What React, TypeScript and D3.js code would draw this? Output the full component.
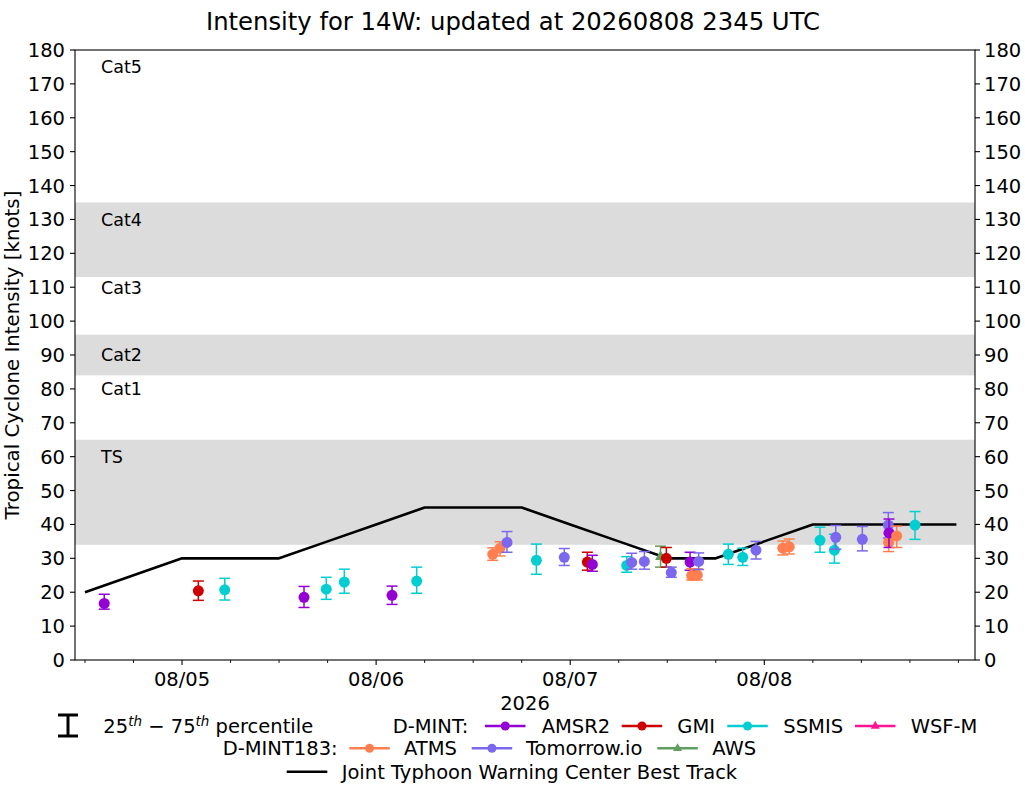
import React from 'react';
import * as d3 from 'd3';

const W = 1025;
const H = 785;
const PLOT = { left: 75, right: 975, top: 50, bottom: 660 };
const FONT = 'DejaVu Sans, Verdana, sans-serif';

const parse = d3.utcParse('%Y-%m-%d %H:%M');

// x-axis limits and ticks
const xLimits = ['2026-08-04 10:46', '2026-08-09 02:03'];
const majorTickTimes = ['2026-08-05 00:00', '2026-08-06 00:00', '2026-08-07 00:00', '2026-08-08 00:00'];
const majorTickLabels = ['08/05', '08/06', '08/07', '08/08'];
const yTicks = d3.range(0, 181, 10);
const yearLabel = '2026';

// intensity category bands and labels
const bandRanges = [[34, 65], [84, 96], [113, 135]];
const categoryNames = ['TS', 'Cat1', 'Cat2', 'Cat3', 'Cat4', 'Cat5'];
const categoryLabelValues = [60, 80, 90, 110, 130, 175];

// JTWC best track
const bestTrackTimes = [
  '2026-08-04 12:00', '2026-08-04 18:00', '2026-08-05 00:00', '2026-08-05 06:00', '2026-08-05 12:00',
  '2026-08-05 18:00', '2026-08-06 00:00', '2026-08-06 06:00', '2026-08-06 12:00', '2026-08-06 18:00',
  '2026-08-07 00:00', '2026-08-07 06:00', '2026-08-07 12:00', '2026-08-07 18:00', '2026-08-08 00:00',
  '2026-08-08 06:00', '2026-08-08 12:00', '2026-08-08 18:00', '2026-08-08 23:45',
];
const bestTrackValues = [20, 25, 30, 30, 30, 35, 40, 45, 45, 45, 40, 35, 30, 30, 35, 40, 40, 40, 40];

// D-MINT AMSR2
const amsr2Times = ['2026-08-04 14:23', '2026-08-05 15:05', '2026-08-06 01:58', '2026-08-07 02:44', '2026-08-07 14:49', '2026-08-08 15:25'];
const amsr2Values = [16.7, 18.5, 19.1, 28.2, 28.9, 37.5];
const amsr2Low = [15.0, 15.5, 16.4, 26.2, 26.5, 33.2];
const amsr2High = [19.4, 21.7, 21.8, 30.9, 31.8, 41.6];

// D-MINT GMI
const gmiTimes = ['2026-08-05 02:01', '2026-08-07 02:07', '2026-08-07 11:53'];
const gmiValues = [20.4, 28.9, 30.0];
const gmiLow = [17.6, 26.5, 27.4];
const gmiHigh = [23.3, 31.8, 33.2];

// D-MINT SSMIS
const ssmisTimes = [
  '2026-08-05 05:17', '2026-08-05 17:50', '2026-08-05 20:04', '2026-08-06 05:01', '2026-08-06 19:49',
  '2026-08-07 06:59', '2026-08-07 19:33', '2026-08-07 21:20', '2026-08-08 06:53', '2026-08-08 08:40', '2026-08-08 18:38',
];
const ssmisValues = [20.7, 20.9, 23.0, 23.3, 29.4, 27.9, 31.2, 30.3, 35.3, 32.4, 39.8];
const ssmisLow = [17.7, 17.9, 19.7, 19.7, 25.3, 25.9, 28.2, 27.9, 31.8, 28.6, 35.6];
const ssmisHigh = [24.1, 24.4, 26.8, 27.4, 34.2, 30.5, 34.2, 33.0, 39.2, 37.1, 43.8];

// D-MINT WSF-M (no retrievals)
const wsfmTimes: string[] = [];
const wsfmValues: number[] = [];
const wsfmLow: number[] = [];
const wsfmHigh: number[] = [];

// D-MINT183 ATMS
const atmsTimes = [
  '2026-08-06 14:25', '2026-08-06 15:19', '2026-08-07 15:01', '2026-08-07 15:43',
  '2026-08-08 02:17', '2026-08-08 03:05', '2026-08-08 15:22', '2026-08-08 16:22',
];
const atmsValues = [31.2, 33.0, 24.9, 25.1, 33.0, 33.4, 34.7, 36.6];
const atmsLow = [29.4, 30.7, 23.6, 23.6, 31.0, 31.3, 32.0, 33.2];
const atmsHigh = [33.1, 34.9, 26.9, 26.9, 35.1, 35.7, 37.4, 39.5];

// D-MINT183 Tomorrow.io
const tomorrowTimes = [
  '2026-08-06 16:11', '2026-08-06 23:16', '2026-08-07 07:36', '2026-08-07 09:10', '2026-08-07 12:30',
  '2026-08-07 15:53', '2026-08-07 22:58', '2026-08-08 08:50', '2026-08-08 12:07', '2026-08-08 15:20',
];
const tomorrowValues = [34.7, 30.3, 28.8, 29.1, 25.8, 29.1, 32.4, 36.2, 35.6, 39.8];
const tomorrowLow = [31.8, 27.9, 26.8, 26.8, 24.4, 26.7, 29.8, 32.7, 32.2, 36.0];
const tomorrowHigh = [37.9, 32.9, 31.5, 32.0, 27.4, 31.6, 35.0, 39.7, 39.4, 43.5];

// D-MINT183 AWS
const awsTimes = ['2026-08-07 11:10'];
const awsValues = [30.5];
const awsLow = [27.4];
const awsHigh = [33.6];

type Sensor = {
  name: string; color: string; marker: 'circle' | 'triangle';
  times: string[]; values: number[]; low: number[]; high: number[];
};

const sensors: Sensor[] = [
  { name: 'AMSR2', color: '#9400d3', marker: 'circle', times: amsr2Times, values: amsr2Values, low: amsr2Low, high: amsr2High },
  { name: 'GMI', color: '#cc0000', marker: 'circle', times: gmiTimes, values: gmiValues, low: gmiLow, high: gmiHigh },
  { name: 'SSMIS', color: '#00ced1', marker: 'circle', times: ssmisTimes, values: ssmisValues, low: ssmisLow, high: ssmisHigh },
  { name: 'WSF-M', color: '#ff1493', marker: 'triangle', times: wsfmTimes, values: wsfmValues, low: wsfmLow, high: wsfmHigh },
  { name: 'ATMS', color: '#ff7f50', marker: 'circle', times: atmsTimes, values: atmsValues, low: atmsLow, high: atmsHigh },
  { name: 'Tomorrow.io', color: '#7b68ee', marker: 'circle', times: tomorrowTimes, values: tomorrowValues, low: tomorrowLow, high: tomorrowHigh },
  { name: 'AWS', color: '#5f9e5f', marker: 'triangle', times: awsTimes, values: awsValues, low: awsLow, high: awsHigh },
];

const x = d3.scaleUtc().domain(xLimits.map((s) => parse(s) as Date)).range([PLOT.left, PLOT.right]);
const y = d3.scaleLinear().domain([0, 180]).range([PLOT.bottom, PLOT.top]);

const triPath = (cx: number, cy: number, r: number) =>
  `M${cx},${cy - r * 1.15}L${cx + r},${cy + r * 0.6}L${cx - r},${cy + r * 0.6}Z`;

function Marker({ kind, cx, cy, r, color }: { kind: string; cx: number; cy: number; r: number; color: string }) {
  if (kind === 'triangle') return <path d={triPath(cx, cy, r)} fill={color} />;
  return <circle cx={cx} cy={cy} r={r} fill={color} />;
}

export default function App() {
  const majorTimes = majorTickTimes.map((s) => parse(s) as Date);
  const [d0, d1] = x.domain();
  const minorTimes = d3.utcHour
    .every(6)!
    .range(d0, d1)
    .filter((t) => !majorTimes.some((m) => +m === +t));

  const line = d3
    .line<[Date, number]>()
    .x((d) => x(d[0]))
    .y((d) => y(d[1]));
  const bt: [Date, number][] = bestTrackTimes.map((s, i) => [parse(s) as Date, bestTrackValues[i]]);

  const points = sensors.flatMap((s) =>
    s.times.map((t, i) => ({ t: parse(t) as Date, v: s.values[i], lo: s.low[i], hi: s.high[i], color: s.color, marker: s.marker }))
  );
  points.sort((a, b) => +a.t - +b.t);

  const capHalf = 5.5;
  const tickFont = 19.5;
  const legendFont = 19.5;

  const legendRow1 = 726;
  const legendRow2 = 748.3;
  const legendRow3 = 771.7;
  const base = (c: number) => c + 7;

  const legendItems = [
    { s: sensors[0], x1: 485, text: 541.7, row: legendRow1 },
    { s: sensors[1], x1: 621.7, text: 677.3, row: legendRow1 },
    { s: sensors[2], x1: 727.3, text: 783.3, row: legendRow1 },
    { s: sensors[3], x1: 855, text: 910.7, row: legendRow1 },
    { s: sensors[4], x1: 349.3, text: 404, row: legendRow2 },
    { s: sensors[5], x1: 471.7, text: 526, row: legendRow2 },
    { s: sensors[6], x1: 657.3, text: 712.3, row: legendRow2 },
  ];

  return (
    <svg width={W} height={H} style={{ position: 'absolute', left: 0, top: 0, background: '#fff' }} fontFamily={FONT}>
      <rect width={W} height={H} fill="#fff" />
      <text x={513} y={30} textAnchor="middle" fontSize={24.3}>
        Intensity for 14W: updated at 20260808 2345 UTC
      </text>

      {/* bands */}
      {bandRanges.map(([a, b], i) => (
        <rect key={i} x={PLOT.left} width={PLOT.right - PLOT.left} y={y(b)} height={y(a) - y(b)} fill="#dcdcdc" />
      ))}
      {categoryNames.map((n, i) => (
        <text key={n} x={101} y={y(categoryLabelValues[i]) + 6.3} fontSize={17.5}>
          {n}
        </text>
      ))}

      {/* best track */}
      <path d={line(bt) || ''} fill="none" stroke="#000" strokeWidth={2.6} strokeLinejoin="round" />

      {/* points */}
      {points.map((p, i) => {
        const cx = x(p.t);
        return (
          <g key={i}>
            <line x1={cx} x2={cx} y1={y(p.lo)} y2={y(p.hi)} stroke={p.color} strokeWidth={1.5} />
            <line x1={cx - capHalf} x2={cx + capHalf} y1={y(p.lo)} y2={y(p.lo)} stroke={p.color} strokeWidth={1.5} />
            <line x1={cx - capHalf} x2={cx + capHalf} y1={y(p.hi)} y2={y(p.hi)} stroke={p.color} strokeWidth={1.5} />
            <Marker kind={p.marker} cx={cx} cy={y(p.v)} r={5.5} color={p.color} />
          </g>
        );
      })}

      {/* frame */}
      <rect x={PLOT.left} y={PLOT.top} width={PLOT.right - PLOT.left} height={PLOT.bottom - PLOT.top} fill="none" stroke="#000" strokeWidth={1.1} />

      {/* y ticks both sides */}
      {yTicks.map((v) => (
        <g key={v}>
          <line x1={PLOT.left - 5} x2={PLOT.left} y1={y(v)} y2={y(v)} stroke="#000" strokeWidth={1.1} />
          <line x1={PLOT.right} x2={PLOT.right + 5} y1={y(v)} y2={y(v)} stroke="#000" strokeWidth={1.1} />
          <text x={PLOT.left - 10} y={y(v) + 7} textAnchor="end" fontSize={tickFont}>
            {v}
          </text>
          <text x={PLOT.right + 9} y={y(v) + 7} textAnchor="start" fontSize={tickFont}>
            {v}
          </text>
        </g>
      ))}

      {/* x ticks */}
      {majorTimes.map((t, i) => (
        <g key={i}>
          <line x1={x(t)} x2={x(t)} y1={PLOT.bottom} y2={PLOT.bottom + 5} stroke="#000" strokeWidth={1.1} />
          <text x={x(t)} y={PLOT.bottom + 26} textAnchor="middle" fontSize={tickFont}>
            {majorTickLabels[i]}
          </text>
        </g>
      ))}
      {minorTimes.map((t, i) => (
        <line key={i} x1={x(t)} x2={x(t)} y1={PLOT.bottom} y2={PLOT.bottom + 3} stroke="#000" strokeWidth={0.9} />
      ))}
      <text x={525} y={710} textAnchor="middle" fontSize={tickFont}>
        {yearLabel}
      </text>

      <text transform={`translate(18.5,355) rotate(-90)`} textAnchor="middle" fontSize={19.8}>
        Tropical Cyclone Intensity [knots]
      </text>

      {/* legend */}
      <g>
        <line x1={68} x2={68} y1={715} y2={736} stroke="#000" strokeWidth={3} />
        <line x1={58} x2={78} y1={715} y2={715} stroke="#000" strokeWidth={3} />
        <line x1={58} x2={78} y1={736} y2={736} stroke="#000" strokeWidth={3} />
        <text x={103.3} y={base(legendRow1)} fontSize={legendFont}>
          25
          <tspan fontStyle="italic" fontSize={13.5} dy={-7.5}>th</tspan>
          <tspan dy={7.5}> − 75</tspan>
          <tspan fontStyle="italic" fontSize={13.5} dy={-7.5}>th</tspan>
          <tspan dy={7.5}> percentile</tspan>
        </text>
        <text x={392.7} y={base(legendRow1)} fontSize={legendFont}>D-MINT:</text>
        <text x={222.7} y={base(legendRow2)} fontSize={legendFont}>D-MINT183:</text>
        {legendItems.map((it) => (
          <g key={it.s.name}>
            <line x1={it.x1} x2={it.x1 + 40.5} y1={it.row} y2={it.row} stroke={it.s.color} strokeWidth={2.5} />
            <Marker kind={it.s.marker} cx={it.x1 + 20.25} cy={it.row} r={4.5} color={it.s.color} />
            <text x={it.text} y={base(it.row)} fontSize={legendFont}>
              {it.s.name}
            </text>
          </g>
        ))}
        <line x1={286.7} x2={327.3} y1={legendRow3} y2={legendRow3} stroke="#000" strokeWidth={2.6} />
        <text x={341.7} y={base(legendRow3)} fontSize={legendFont}>
          Joint Typhoon Warning Center Best Track
        </text>
      </g>
    </svg>
  );
}
